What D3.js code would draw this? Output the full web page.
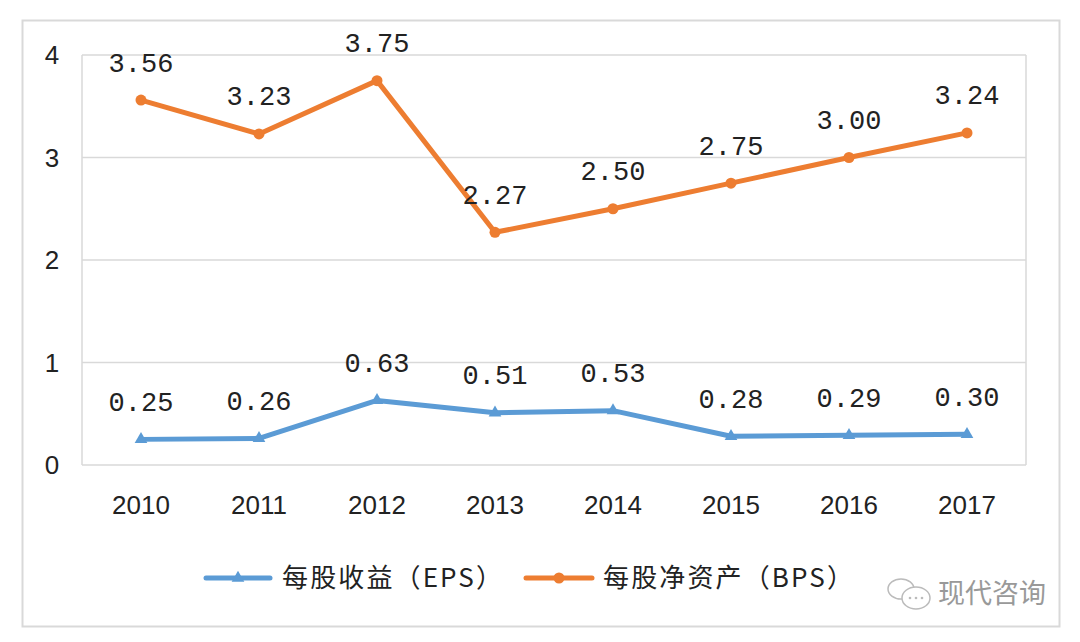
<!DOCTYPE html>
<html>
<head>
<meta charset="utf-8">
<script src="https://cdn.jsdelivr.net/npm/d3@7/dist/d3.min.js"></script>
<style>
  body { margin: 0; background: #fff; }
  svg text { font-family: "Liberation Sans", "Noto Sans CJK SC", sans-serif; }
</style>
</head>
<body>
<div id="chart"></div>
<script>
var years = ["2010", "2011", "2012", "2013", "2014", "2015", "2016", "2017"];
var epsValues = [0.25, 0.26, 0.63, 0.51, 0.53, 0.28, 0.29, 0.30];
var bpsValues = [3.56, 3.23, 3.75, 2.27, 2.50, 2.75, 3.00, 3.24];
var yTicks = [0, 1, 2, 3, 4];
var seriesNames = ["每股收益（EPS）", "每股净资产（BPS）"];

var width = 1080, height = 642;
var margin = { left: 82, top: 55, right: 54, bottom: 177 };
var innerW = width - margin.left - margin.right;
var innerH = height - margin.top - margin.bottom;

var svg = d3.select("#chart").append("svg")
  .attr("width", width).attr("height", height);

// outer frame
svg.append("rect")
  .attr("x", 22.5).attr("y", 20.5)
  .attr("width", 1037).attr("height", 606)
  .attr("fill", "#fff").attr("stroke", "#d9d9d9").attr("stroke-width", 2);

var g = svg.append("g")
  .attr("transform", "translate(" + margin.left + "," + margin.top + ")");

var x = d3.scaleBand().domain(years).range([0, innerW]);
var y = d3.scaleLinear().domain([0, 4]).range([innerH, 0]);

// grid lines
g.selectAll(".grid").data(yTicks).enter().append("line")
  .attr("x1", 0).attr("x2", innerW)
  .attr("y1", function (d) { return y(d); })
  .attr("y2", function (d) { return y(d); })
  .attr("stroke", "#d9d9d9").attr("stroke-width", 1.5);

// plot area box sides
g.append("line").attr("x1", 0).attr("x2", 0).attr("y1", 0).attr("y2", innerH)
  .attr("stroke", "#d9d9d9").attr("stroke-width", 1.5);
g.append("line").attr("x1", innerW).attr("x2", innerW).attr("y1", 0).attr("y2", innerH)
  .attr("stroke", "#d9d9d9").attr("stroke-width", 1.5);

// y tick labels
g.selectAll(".ytick").data(yTicks).enter().append("text")
  .attr("x", -30)
  .attr("y", function (d) { return y(d); })
  .attr("dy", "0.35em")
  .attr("text-anchor", "middle")
  .style("font-size", "26px").style("fill", "#222")
  .text(function (d) { return d; });

// x tick labels
g.selectAll(".xtick").data(years).enter().append("text")
  .attr("x", function (d) { return x(d) + x.bandwidth() / 2; })
  .attr("y", innerH + 40)
  .attr("dy", "0.35em")
  .attr("text-anchor", "middle")
  .style("font-size", "26px").style("fill", "#222")
  .text(function (d) { return d; });

var series = [
  { name: seriesNames[0], values: epsValues, color: "#5b9bd5", marker: "tri" },
  { name: seriesNames[1], values: bpsValues, color: "#ed7d31", marker: "circle" }
];

var line = d3.line()
  .x(function (d, i) { return x(years[i]) + x.bandwidth() / 2; })
  .y(function (d) { return y(d); });

var tri = d3.symbol().type(d3.symbolTriangle).size(70);

series.forEach(function (s) {
  g.append("path")
    .attr("d", line(s.values))
    .attr("fill", "none")
    .attr("stroke", s.color)
    .attr("stroke-width", 5)
    .attr("stroke-linejoin", "round");

  var pts = g.selectAll(null).data(s.values).enter();
  if (s.marker == "circle") {
    pts.append("circle")
      .attr("cx", function (d, i) { return x(years[i]) + x.bandwidth() / 2; })
      .attr("cy", function (d) { return y(d); })
      .attr("r", 5.5)
      .attr("fill", s.color);
  } else {
    pts.append("path")
      .attr("d", tri)
      .attr("transform", function (d, i) {
        return "translate(" + (x(years[i]) + x.bandwidth() / 2) + "," + y(d) + ")";
      })
      .attr("fill", s.color);
  }

  // data labels
  pts.append("text")
    .attr("x", function (d, i) { return x(years[i]) + x.bandwidth() / 2; })
    .attr("y", function (d) { return y(d) - 38; })
    .attr("dy", "0.35em")
    .attr("text-anchor", "middle")
    .style("font-family", "'Liberation Mono', 'DejaVu Sans Mono', monospace")
    .style("font-size", "27px").style("fill", "#222")
    .text(function (d) { return d.toFixed(2); });
});

// legend
var legendY = 578;
var legendItems = [
  { s: series[0], x1: 206, x2: 270, tx: 282, tw: 220 },
  { s: series[1], x1: 526, x2: 592, tx: 603, tw: 250 }
];
legendItems.forEach(function (it) {
  svg.append("line")
    .attr("x1", it.x1).attr("x2", it.x2)
    .attr("y1", legendY).attr("y2", legendY)
    .attr("stroke", it.s.color).attr("stroke-width", 5)
    .attr("stroke-linecap", "round");
  var cx = (it.x1 + it.x2) / 2;
  if (it.s.marker == "circle") {
    svg.append("circle").attr("cx", cx).attr("cy", legendY).attr("r", 5.5).attr("fill", it.s.color);
  } else {
    svg.append("path").attr("d", tri)
      .attr("transform", "translate(" + cx + "," + legendY + ")")
      .attr("fill", it.s.color);
  }
  svg.append("text")
    .attr("x", it.tx).attr("y", legendY)
    .attr("dy", "0.35em")
    .attr("textLength", it.tw)
    .attr("lengthAdjust", "spacing")
    .style("font-family", "'Noto Sans CJK SC', sans-serif")
    .style("font-size", "26px").style("fill", "#222")
    .text(it.s.name);
});

// watermark
var wm = svg.append("g").attr("transform", "translate(886,594)");
wm.append("ellipse").attr("cx", 15).attr("cy", -5).attr("rx", 13).attr("ry", 10)
  .attr("fill", "none").attr("stroke", "#bbb").attr("stroke-width", 1.5);
wm.append("ellipse").attr("cx", 30).attr("cy", 4).attr("rx", 14).attr("ry", 11)
  .attr("fill", "#fff").attr("stroke", "#bbb").attr("stroke-width", 1.5);
wm.selectAll(".dot").data([24, 30, 36]).enter().append("circle")
  .attr("cx", function (d) { return d; }).attr("cy", 4).attr("r", 1.3).attr("fill", "#bbb");
wm.append("text")
  .attr("x", 52).attr("y", 0).attr("dy", "0.35em")
  .style("font-family", "'Noto Sans CJK SC', sans-serif")
  .style("font-size", "27px").style("fill", "#999")
  .text("现代咨询");
</script>
</body>
</html>
